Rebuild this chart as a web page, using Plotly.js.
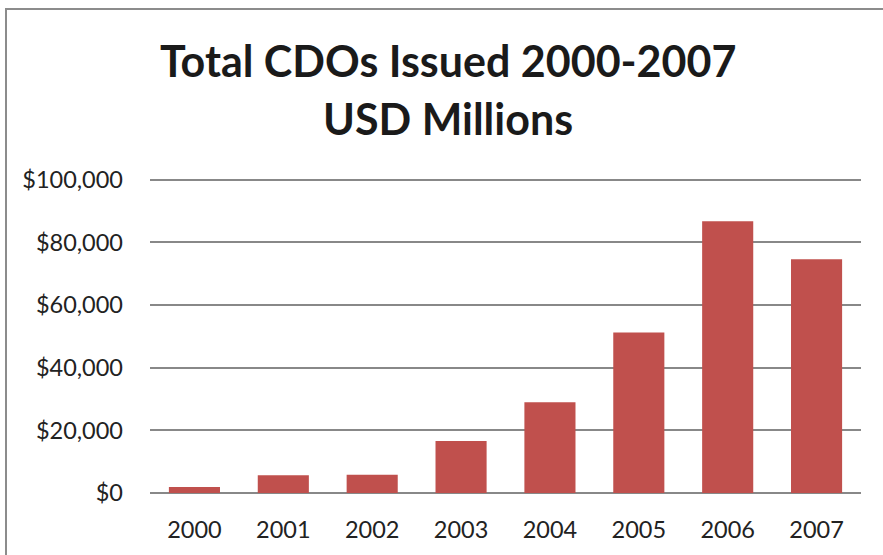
<!DOCTYPE html>
<html>
<head>
<meta charset="utf-8">
<script src="https://cdn.plot.ly/plotly-3.0.1.min.js"></script>
<style>
html,body{margin:0;padding:0;background:#fff;}
#wrap{position:relative;width:883px;height:555px;overflow:hidden;}
#chart{width:883px;height:555px;}
#frame{position:absolute;left:5px;top:8px;width:900px;height:600px;border-top:2px solid #8c8c8c;border-left:2px solid #8c8c8c;pointer-events:none;}
</style>
</head>
<body>
<div id="wrap"><div id="chart"></div><div id="frame"></div></div>
<script>
const years = ["2000","2001","2002","2003","2004","2005","2006","2007"];
const issued = [1900, 5700, 5800, 16600, 29000, 51200, 86700, 74600];
const yTicks = [0, 20000, 40000, 60000, 80000, 100000];
const yTickLabels = ["$0","$20,000","$40,000","$60,000","$80,000","$100,000"];
const titleLines = ["Total CDOs Issued 2000-2007", "USD Millions"];

const FONT = "Lato, 'Open Sans', sans-serif";

const trace = {
  type: "bar",
  x: years,
  y: issued,
  marker: {color: "#C0504D", line: {width: 0}},
  hoverinfo: "x+y"
};

const layout = {
  width: 883, height: 555,
  margin: {l: 150, r: 22, t: 177, b: 62},
  paper_bgcolor: "#ffffff",
  plot_bgcolor: "#ffffff",
  bargap: 0.425,
  showlegend: false,
  font: {family: FONT, color: "#222222", size: 23},
  xaxis: {
    type: "category",
    showgrid: false,
    showline: false,
    zeroline: false,
    ticks: "",
    ticklabelstandoff: 20,
    tickfont: {family: FONT, size: 23.5, color: "#222222"}
  },
  yaxis: {
    range: [0, 100860],
    tickvals: yTicks,
    ticktext: yTickLabels,
    showgrid: true,
    gridcolor: "#888888",
    gridwidth: 2,
    zeroline: true,
    zerolinecolor: "#888888",
    zerolinewidth: 2,
    showline: false,
    ticks: "",
    ticklabelstandoff: 26,
    tickfont: {family: FONT, size: 23.5, color: "#222222"}
  },
  annotations: [
    {text: "<b>" + titleLines[0] + "</b>", xref: "paper", yref: "paper",
     x: (448 - 150) / 711, y: 1 + (177 - 60) / 316, xanchor: "center", yanchor: "middle",
     showarrow: false, font: {family: FONT, size: 43, color: "#1a1a1a"}},
    {text: "<b>" + titleLines[1] + "</b>", xref: "paper", yref: "paper",
     x: (448 - 150) / 711, y: 1 + (177 - 119) / 316, xanchor: "center", yanchor: "middle",
     showarrow: false, font: {family: FONT, size: 43, color: "#1a1a1a"}}
  ]
};

Plotly.newPlot("chart", [trace], layout, {displayModeBar: false, staticPlot: true});
</script>
</body>
</html>
